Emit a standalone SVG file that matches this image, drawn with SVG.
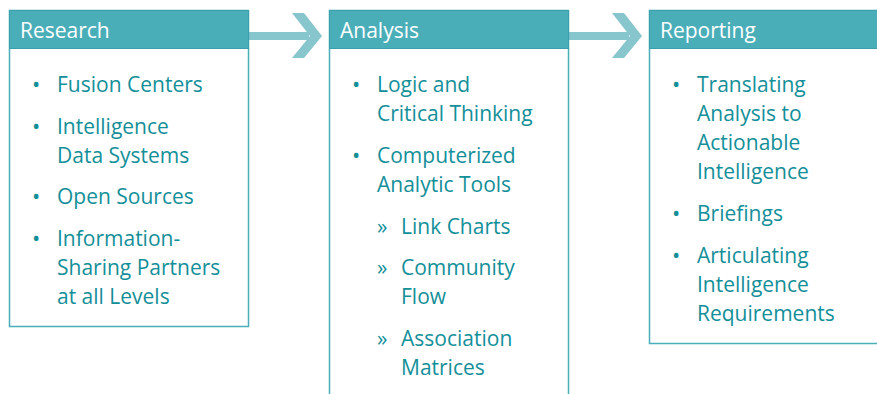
<svg xmlns="http://www.w3.org/2000/svg" width="877" height="394" viewBox="0 0 877 394">
<style>
.box{fill:#fff;stroke:#4aaeb9;stroke-width:1.5}
.hdr{fill:#4aaeb9;stroke:#3a9fab;stroke-width:1}
.ht{font-family:"Open Sans",sans-serif;font-size:21px;fill:#fff}
.t{font-family:"Open Sans",sans-serif;font-size:21px;fill:#138f99}
.b{font-family:"Open Sans",sans-serif;font-size:22px;fill:#138f99}
.arr{fill:#88c6cd}
</style>
<g id="connectors">
<rect class="arr" x="249" y="32" width="60" height="8"/>
<polygon class="arr" points="292,13 304,13 322,36 304,58 292,58 310,36"/>
<rect class="arr" x="569" y="32" width="60" height="8"/>
<polygon class="arr" points="612,13 624,13 642,36 624,58 612,58 630,36"/>
</g>
<g id="research">
<rect class="box" x="9.5" y="10.5" width="239" height="316"/>
<rect class="hdr" x="9.5" y="10.5" width="239" height="38"/>
<text class="ht" x="20" y="38">Research</text>
<text class="b" x="32" y="92">•</text><text class="t" x="57" y="92">Fusion Centers</text>
<text class="b" x="32" y="134">•</text><text class="t" x="57" y="134">Intelligence</text>
<text class="t" x="57" y="163">Data Systems</text>
<text class="b" x="32" y="204">•</text><text class="t" x="57" y="204">Open Sources</text>
<text class="b" x="32" y="246">•</text><text class="t" x="57" y="246">Information-</text>
<text class="t" x="57" y="275">Sharing Partners</text>
<text class="t" x="57" y="304">at all Levels</text>
</g>
<g id="analysis">
<rect class="box" x="329.5" y="10.5" width="239" height="400"/>
<rect class="hdr" x="329.5" y="10.5" width="239" height="38"/>
<text class="ht" x="340" y="38">Analysis</text>
<text class="b" x="352" y="92">•</text><text class="t" x="377" y="92">Logic and</text>
<text class="t" x="377" y="121">Critical Thinking</text>
<text class="b" x="352" y="163">•</text><text class="t" x="377" y="163">Computerized</text>
<text class="t" x="377" y="192">Analytic Tools</text>
<text class="t" x="377" y="234">»</text><text class="t" x="401" y="234">Link Charts</text>
<text class="t" x="377" y="275">»</text><text class="t" x="401" y="275">Community</text>
<text class="t" x="401" y="304">Flow</text>
<text class="t" x="377" y="346">»</text><text class="t" x="401" y="346">Association</text>
<text class="t" x="401" y="375">Matrices</text>
</g>
<g id="reporting">
<rect class="box" x="649.5" y="10.5" width="240" height="333"/>
<rect class="hdr" x="649.5" y="10.5" width="240" height="38"/>
<text class="ht" x="660" y="38">Reporting</text>
<text class="b" x="672" y="92">•</text><text class="t" x="697" y="92">Translating</text>
<text class="t" x="697" y="121">Analysis to</text>
<text class="t" x="697" y="150">Actionable</text>
<text class="t" x="697" y="179">Intelligence</text>
<text class="b" x="672" y="221">•</text><text class="t" x="697" y="221">Briefings</text>
<text class="b" x="672" y="263">•</text><text class="t" x="697" y="263">Articulating</text>
<text class="t" x="697" y="292">Intelligence</text>
<text class="t" x="697" y="321">Requirements</text>
</g>
</svg>
